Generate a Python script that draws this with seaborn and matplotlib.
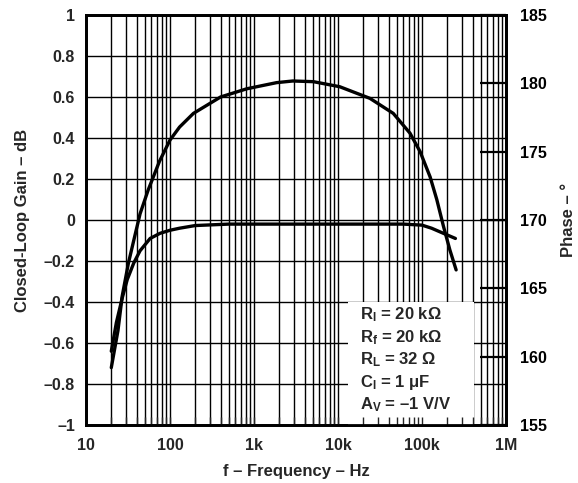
import matplotlib
matplotlib.use("Agg")
import matplotlib.pyplot as plt
import matplotlib.ticker as mticker
from matplotlib.patches import Rectangle
import numpy as np
import pandas as pd
import seaborn as sns

# ---- data ----
gain_freq = [20, 23, 27, 31, 37, 44, 58, 76, 100, 130, 200, 500, 1000, 5000,
             20000, 60000, 100000, 130000, 180000, 250000]
gain_db = [-0.64, -0.50, -0.38, -0.29, -0.21, -0.15, -0.09, -0.065, -0.05, -0.04,
           -0.027, -0.02, -0.02, -0.02, -0.02, -0.02, -0.025, -0.04, -0.065, -0.09]

phase_freq = [20, 24, 27, 32, 37, 44, 55, 75, 100, 130, 190, 400, 820, 1860,
              2900, 5100, 10500, 24000, 45500, 72000, 95000, 125000, 150000,
              180000, 215000, 255000]
phase_deg = [159.2, 161.9, 164.45, 166.85, 168.5, 170.45, 172.2, 174.3, 175.85,
             176.8, 177.8, 179.0, 179.6, 180.05, 180.17, 180.12, 179.75, 178.9,
             177.8, 176.35, 175.0, 173.15, 171.5, 169.55, 167.8, 166.35]

x_ticks = [10, 100, 1000, 10000, 100000, 1000000]
x_labels = ["10", "100", "1k", "10k", "100k", "1M"]
gain_ticks = [-1, -0.8, -0.6, -0.4, -0.2, 0, 0.2, 0.4, 0.6, 0.8, 1]
gain_labels = ["\u20131", "\u20130.8", "\u20130.6", "\u20130.4", "\u20130.2", "0",
               "0.2", "0.4", "0.6", "0.8", "1"]
phase_ticks = [155, 160, 165, 170, 175, 180, 185]
phase_labels = [str(t) for t in phase_ticks]

legend_lines = [
    "R$_\\mathregular{I}$ = 20 k\u03A9",
    "R$_\\mathregular{f}$ = 20 k\u03A9",
    "R$_\\mathregular{L}$ = 32 \u03A9",
    "C$_\\mathregular{I}$ = 1 \u03BCF",
    "A$_\\mathregular{V}$ = \u20131 V/V",
]

# ---- style ----
sns.set_theme(style="white")
plt.rcParams["font.family"] = ["Liberation Sans", "DejaVu Sans"]
plt.rcParams["font.weight"] = "bold"
plt.rcParams["mathtext.fontset"] = "custom"
plt.rcParams["mathtext.rm"] = "Liberation Sans:bold"
plt.rcParams["mathtext.it"] = "Liberation Sans:bold"
plt.rcParams["mathtext.bf"] = "Liberation Sans:bold"

fig = plt.figure(figsize=(5.78, 4.83), dpi=100)
ax = fig.add_axes([0.1488, 0.12, 0.7266, 0.849])
ax2 = ax.twinx()

gain_df = pd.DataFrame({"f": gain_freq, "g": gain_db})
phase_df = pd.DataFrame({"f": phase_freq, "p": phase_deg})

sns.lineplot(data=gain_df, x="f", y="g", ax=ax, color="black", lw=2.4, zorder=3)
sns.lineplot(data=phase_df, x="f", y="p", ax=ax2, color="black", lw=2.4, zorder=3)

ax.set_xscale("log")
ax.set_xlim(10, 1e6)
ax.set_ylim(-1, 1)
ax2.set_ylim(155, 185)

ax.xaxis.set_minor_locator(mticker.LogLocator(base=10, subs=np.arange(2, 10), numticks=50))
ax.set_xticks(x_ticks)
ax.set_xticklabels(x_labels)
ax.xaxis.set_minor_formatter(mticker.NullFormatter())
ax.set_yticks(gain_ticks)
ax.set_yticklabels(gain_labels)
ax2.set_yticks(phase_ticks)
ax2.set_yticklabels(phase_labels)

ax.grid(True, which="major", axis="both", color="black", lw=1.0)
ax.grid(True, which="minor", axis="x", color="black", lw=1.0)
ax.set_axisbelow(True)

ax.tick_params(axis="x", which="both", direction="in", length=0, pad=9,
               labelsize=11.5)
ax.tick_params(axis="y", which="both", length=0, pad=8, labelsize=11.5)
ax2.tick_params(axis="y", direction="in", length=19, width=1.6, pad=10,
                labelsize=11.5, colors="black")

# bottom inward ticks drawn on the upper (twin) axes so they sit above the box
ax2.xaxis.set_visible(True)
ax2.set_xlabel("")
ax2.tick_params(axis="x", which="both", direction="in", length=6, width=1.0,
                labelbottom=False, bottom=True, top=False, labeltop=False)

for a in (ax, ax2):
    for s in a.spines.values():
        s.set_color("black")
        s.set_linewidth(2.0)

for lbl in ax.get_xticklabels() + ax.get_yticklabels() + ax2.get_yticklabels():
    lbl.set_fontweight("bold")

ax.set_xlabel("f \u2013 Frequency \u2013 Hz", fontsize=12, fontweight="bold", labelpad=8)
ax.set_ylabel("Closed-Loop Gain \u2013 dB", fontsize=12, fontweight="bold", labelpad=10)
ax2.set_ylabel("Phase \u2013 \u00B0", fontsize=12, fontweight="bold", labelpad=10)

# conditions box
ax.add_patch(Rectangle((0.624, 0.0), 0.30, 0.30, transform=ax.transAxes,
                       facecolor="white", edgecolor="none", zorder=4))
for i, line in enumerate(legend_lines):
    ax.text(0.652, 0.268 - i * 0.0545, line, transform=ax.transAxes,
            fontsize=12, fontweight="bold", va="center", ha="left", zorder=5)

fig.savefig("out.png", dpi=100)
